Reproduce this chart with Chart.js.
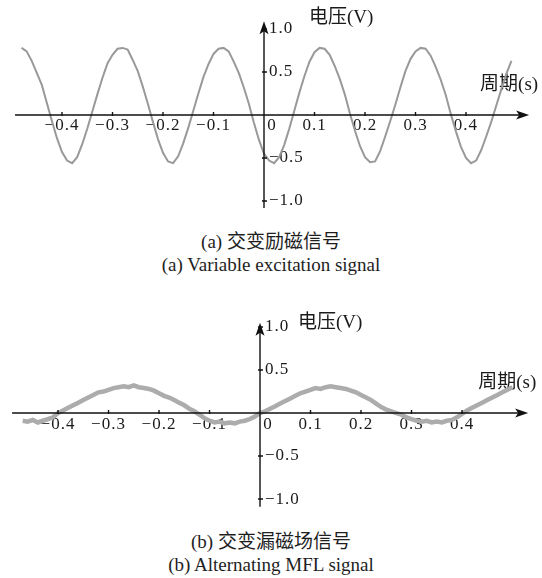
<!DOCTYPE html>
<html>
<head>
<meta charset="utf-8">
<script src="https://cdn.jsdelivr.net/npm/chart.js@4/dist/chart.umd.min.js"></script>
<style>
  body { margin: 0; background: #fff; width: 542px; height: 578px; position: relative; overflow: hidden;
         font-family: "Liberation Serif", "Noto Sans CJK SC", serif; color: #1e1e1e; }
  canvas { position: absolute; left: 0; }
  .cap { position: absolute; left: 0; width: 542px; text-align: center; font-size: 19px; line-height: 22px; }
</style>
</head>
<body>
<canvas id="chartA" width="542" height="225" style="top:0"></canvas>
<canvas id="chartB" width="542" height="240" style="top:290px"></canvas>
<div class="cap" style="top:231px">(a) 交变励磁信号</div>
<div class="cap" style="top:254px">(a) Variable excitation signal</div>
<div class="cap" style="top:531px">(b) 交变漏磁场信号</div>
<div class="cap" style="top:554px">(b) Alternating MFL signal</div>

<script>
// --- data ---
const timesA = [-0.48,-0.47,-0.46,-0.45,-0.44,-0.43,-0.42,-0.41,-0.40,-0.39,-0.38,-0.37,-0.36,-0.35,-0.34,-0.33,-0.32,-0.31,-0.30,-0.29,
  -0.28,-0.27,-0.26,-0.25,-0.24,-0.23,-0.22,-0.21,-0.20,-0.19,-0.18,-0.17,-0.16,-0.15,-0.14,-0.13,-0.12,-0.11,-0.10,-0.09,
  -0.08,-0.07,-0.06,-0.05,-0.04,-0.03,-0.02,-0.01,0.00,0.01,0.02,0.03,0.04,0.05,0.06,0.07,0.08,0.09,0.10,0.11,
  0.12,0.13,0.14,0.15,0.16,0.17,0.18,0.19,0.20,0.21,0.22,0.23,0.24,0.25,0.26,0.27,0.28,0.29,0.30,0.31,
  0.32,0.33,0.34,0.35,0.36,0.37,0.38,0.39,0.40,0.41,0.42,0.43,0.44,0.45,0.46,0.47,0.48,0.49];
const excitation = [0.78,0.74,0.63,0.49,0.35,0.14,-0.07,-0.27,-0.43,-0.53,-0.56,-0.49,-0.34,-0.16,0.04,0.24,0.43,0.60,0.70,0.77,
  0.78,0.76,0.64,0.51,0.33,0.13,-0.08,-0.28,-0.44,-0.54,-0.56,-0.48,-0.33,-0.15,0.05,0.25,0.44,0.59,0.71,0.77,
  0.78,0.74,0.62,0.49,0.32,0.13,-0.09,-0.29,-0.45,-0.53,-0.56,-0.49,-0.35,-0.16,0.05,0.26,0.45,0.62,0.73,0.78,
  0.77,0.70,0.57,0.42,0.24,0.02,-0.18,-0.36,-0.49,-0.55,-0.54,-0.42,-0.25,-0.07,0.12,0.32,0.51,0.65,0.74,0.78,
  0.77,0.69,0.56,0.41,0.23,0.01,-0.19,-0.37,-0.50,-0.56,-0.53,-0.41,-0.25,-0.08,0.11,0.30,0.48,0.63];

const timesB = [-0.47,-0.46,-0.45,-0.44,-0.43,-0.42,-0.41,-0.40,-0.39,-0.38,-0.37,-0.36,-0.35,-0.34,-0.33,-0.32,-0.31,-0.30,-0.29,-0.28,
  -0.27,-0.26,-0.25,-0.24,-0.23,-0.22,-0.21,-0.20,-0.19,-0.18,-0.17,-0.16,-0.15,-0.14,-0.13,-0.12,-0.11,-0.10,-0.09,-0.08,
  -0.07,-0.06,-0.05,-0.04,-0.03,-0.02,-0.01,0.00,0.01,0.02,0.03,0.04,0.05,0.06,0.07,0.08,0.09,0.10,0.11,0.12,
  0.13,0.14,0.15,0.16,0.17,0.18,0.19,0.20,0.21,0.22,0.23,0.24,0.25,0.26,0.27,0.28,0.29,0.30,0.31,0.32,
  0.33,0.34,0.35,0.36,0.37,0.38,0.39,0.40,0.41,0.42,0.43,0.44,0.45,0.46,0.47,0.48,0.49,0.50];
const mflSignal = [-0.09,-0.10,-0.08,-0.11,-0.09,-0.07,-0.05,0.00,0.03,0.06,0.09,0.12,0.15,0.18,0.21,0.24,0.25,0.27,0.29,0.30,
  0.31,0.30,0.32,0.30,0.29,0.28,0.26,0.23,0.20,0.18,0.15,0.12,0.09,0.05,0.02,-0.02,-0.06,-0.09,-0.11,-0.10,
  -0.12,-0.11,-0.12,-0.10,-0.09,-0.07,-0.04,0.00,0.02,0.05,0.08,0.11,0.14,0.17,0.20,0.23,0.25,0.27,0.29,0.28,
  0.30,0.31,0.30,0.29,0.28,0.26,0.24,0.21,0.18,0.15,0.11,0.07,0.04,0.02,0.00,-0.02,-0.05,-0.07,-0.09,-0.10,
  -0.09,-0.11,-0.10,-0.11,-0.09,-0.08,-0.05,-0.01,0.03,0.06,0.09,0.12,0.15,0.18,0.21,0.24,0.27,0.30];

const xTickValues = [-0.4, -0.3, -0.2, -0.1, 0, 0.1, 0.2, 0.3, 0.4];
const yTickValues = [1.0, 0.5, -0.5, -1.0];
const yTitle = '电压(V)';
const xTitle = '周期(s)';

const fmt = v => v === 0 ? '0' : v.toFixed(1).replace('-', '\u2212');
const labelFont = '17px "Liberation Serif", "Noto Sans CJK SC", serif';
const titleFont = '19px "Liberation Serif", "Noto Sans CJK SC", serif';

// axes crossing at the origin, with arrows
const crossAxes = {
  id: 'crossAxes',
  beforeDatasetsDraw(chart, args, o) {
    const { ctx, scales: { x, y } } = chart;
    const x0 = x.getPixelForValue(0), y0 = y.getPixelForValue(0);
    ctx.save();
    ctx.fillStyle = '#1a1a1a';
    ctx.font = labelFont;
    ctx.letterSpacing = '1px';
    ctx.textAlign = 'center';
    ctx.textBaseline = 'middle';
    xTickValues.forEach(v => {
      const px = x.getPixelForValue(v) + (v === 0 ? 8 : 0);
      ctx.fillText(fmt(v), px, y0 + o.xLabelGap);
    });
    ctx.textAlign = 'left';
    yTickValues.forEach(v => ctx.fillText(fmt(v), x0 + 5, y.getPixelForValue(v)));
    ctx.letterSpacing = '0px';
    ctx.font = titleFont;
    ctx.fillText(yTitle, x0 + o.yTitleDx, y.getPixelForValue(y.max) + o.yTitleDy);
    ctx.fillText(xTitle, x.getPixelForValue(o.xTo) + o.xTitleDx, y0 + o.xTitleDy);
    ctx.restore();
  },
  afterDatasetsDraw(chart, args, o) {
    const { ctx, scales: { x, y } } = chart;
    const x0 = x.getPixelForValue(0), y0 = y.getPixelForValue(0);
    const xl = x.getPixelForValue(o.xFrom), xr = x.getPixelForValue(o.xTo);
    const yt = y.getPixelForValue(o.yTo), yb = y.getPixelForValue(o.yFrom);
    ctx.save();
    ctx.strokeStyle = '#111';
    ctx.fillStyle = '#111';
    ctx.lineWidth = 1.4;
    ctx.beginPath();
    ctx.moveTo(xl, y0); ctx.lineTo(xr - 6, y0);
    ctx.moveTo(x0, yb); ctx.lineTo(x0, yt + 6);
    xTickValues.forEach(v => {
      if (v === 0) return;
      const px = x.getPixelForValue(v);
      ctx.moveTo(px, y0 - 3); ctx.lineTo(px, y0 + 1);
    });
    yTickValues.forEach(v => {
      const py = y.getPixelForValue(v);
      ctx.moveTo(x0 - 2, py); ctx.lineTo(x0 + 3, py);
    });
    ctx.stroke();
    ctx.beginPath();
    ctx.moveTo(xr, y0); ctx.lineTo(xr - 13, y0 - 4.5); ctx.lineTo(xr - 10, y0); ctx.lineTo(xr - 13, y0 + 4.5);
    ctx.closePath(); ctx.fill();
    ctx.beginPath();
    ctx.moveTo(x0, yt); ctx.lineTo(x0 - 4.5, yt + 13); ctx.lineTo(x0, yt + 10); ctx.lineTo(x0 + 4.5, yt + 13);
    ctx.closePath(); ctx.fill();
    ctx.restore();
  }
};

function makeChart(id, times, values, color, width, range, axisOpts) {
  return new Chart(document.getElementById(id), {
    type: 'line',
    data: {
      datasets: [{
        data: times.map((t, i) => ({ x: t, y: values[i] })),
        borderColor: color,
        borderWidth: width,
        pointRadius: 0,
        tension: 0,
        fill: false
      }]
    },
    options: {
      responsive: false,
      animation: false,
      layout: { padding: 0 },
      scales: {
        x: { type: 'linear', min: range.xMin, max: range.xMax, display: false },
        y: { type: 'linear', min: range.yMin, max: range.yMax, display: false }
      },
      plugins: {
        legend: { display: false },
        tooltip: { enabled: false },
        crossAxes: axisOpts
      }
    },
    plugins: [crossAxes]
  });
}

makeChart('chartA', timesA, excitation, '#999999', 2,
  { xMin: -0.5228, xMax: 0.5505, yMin: -1.279, yMax: 1.337 },
  { xFrom: -0.493, xTo: 0.525, yFrom: -1.08, yTo: 1.09, xLabelGap: 11,
    yTitleDx: 45, yTitleDy: 18, xTitleDx: -49, xTitleDy: -30 });

makeChart('chartB', timesB, mflSignal, '#acacac', 4.5,
  { xMin: -0.5149, xMax: 0.5584, yMin: -1.36, yMax: 1.43 },
  { xFrom: -0.491, xTo: 0.531, yFrom: -1.09, yTo: 1.05, xLabelGap: 12,
    yTitleDx: 38, yTitleDy: 33, xTitleDx: -50, xTitleDy: -30 });
</script>
</body>
</html>
